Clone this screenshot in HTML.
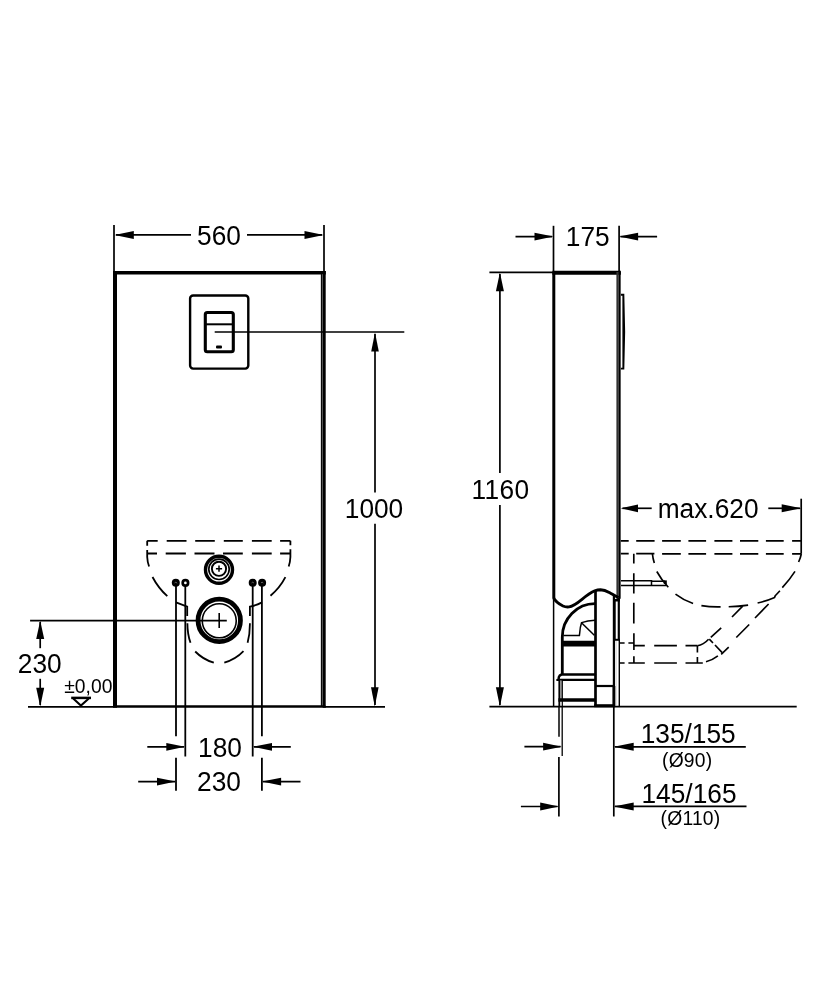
<!DOCTYPE html>
<html>
<head>
<meta charset="utf-8">
<title>Dimension drawing</title>
<style>
html,body{margin:0;padding:0;background:#fff;}
body{width:834px;height:1000px;overflow:hidden;}
svg{display:block;will-change:transform;}
text{font-family:"Liberation Sans",sans-serif;fill:#000;}
.t{font-size:26.3px;}
.s{font-size:19.3px;letter-spacing:0.2px;}
.l{stroke:#000;stroke-width:1.7;fill:none;}
.a{fill:#000;stroke:none;}
</style>
</head>
<body>
<svg width="834" height="1000" viewBox="0 0 834 1000">
<rect width="834" height="1000" fill="#fff"/>

<!-- ================= LEFT FIGURE ================= -->
<g id="left">
<!-- 560 dimension -->
<g class="l">
<line x1="114" y1="225" x2="114" y2="272"/>
<line x1="324" y1="225" x2="324" y2="272"/>
<line x1="116" y1="234.9" x2="191" y2="234.9"/>
<line x1="247" y1="234.9" x2="322" y2="234.9"/>
</g>
<polygon class="a" points="114.5,234.9 133.8,230.9 133.8,238.9"/>
<polygon class="a" points="323.8,234.9 304.5,230.9 304.5,238.9"/>
<text class="t" transform="translate(219,245.2) scale(1,1.035)" text-anchor="middle">560</text>

<!-- main box -->
<g stroke="#000" fill="none">
<line x1="115" y1="271" x2="115" y2="707.8" stroke-width="4"/>
<line x1="113" y1="272.8" x2="325.8" y2="272.8" stroke-width="3.6"/>
<line x1="321.6" y1="274" x2="321.6" y2="706" stroke-width="1.5"/>
<line x1="322.4" y1="274" x2="322.4" y2="706" stroke-width="0.8" stroke="#666"/>
<line x1="324.2" y1="271" x2="324.2" y2="707.8" stroke-width="3"/>
<line x1="113" y1="706.5" x2="325.4" y2="706.5" stroke-width="2.6"/>
</g>

<!-- flush plate -->
<g stroke="#000" fill="none">
<rect x="190.1" y="295.5" width="58.2" height="73.1" rx="3" stroke-width="2.4"/>
<rect x="205.3" y="312.5" width="28" height="39.2" rx="2" stroke-width="3.1"/>
<line x1="205.3" y1="324.3" x2="233.3" y2="324.3" stroke-width="2"/>
</g>
<rect x="216" y="345.6" width="6" height="2.9" rx="1" fill="#000"/>

<!-- 1000 dimension -->
<g class="l">
<line x1="214.7" y1="332" x2="404.3" y2="332"/>
<line x1="375" y1="334" x2="375" y2="492.5"/>
<line x1="375" y1="523.7" x2="375" y2="705"/>
<line x1="325" y1="706.8" x2="385" y2="706.8"/>
</g>
<polygon class="a" points="375,332.5 371.2,351.4 378.8,351.4"/>
<polygon class="a" points="374.8,706.5 371,687.3 378.6,687.3"/>
<text class="t" transform="translate(374,518) scale(1,1.035)" text-anchor="middle">1000</text>

<!-- 230 left dimension -->
<g class="l">
<line x1="30.1" y1="620.6" x2="226.8" y2="620.6"/>
<line x1="28" y1="706.9" x2="113" y2="706.9"/>
<line x1="40.2" y1="622" x2="40.2" y2="648.2"/>
<line x1="40.2" y1="678.8" x2="40.2" y2="705"/>
</g>
<polygon class="a" points="40.2,620.8 36.2,639.1 44.2,639.1"/>
<polygon class="a" points="40.2,706.5 36.2,687.8 44.2,687.8"/>
<text class="t" transform="translate(39.7,673.4) scale(1,1.035)" text-anchor="middle">230</text>
<text class="s" transform="translate(88.3,692.8) scale(1,1.035)" text-anchor="middle" style="letter-spacing:0px">±0,00</text>
<line x1="71.2" y1="697.9" x2="91" y2="697.9" stroke="#000" stroke-width="2.5"/>
<polyline points="73.2,698.4 80.9,705.6 88.8,698.4" fill="none" stroke="#000" stroke-width="2" stroke-linejoin="miter"/>

<!-- bowl dashed outline -->
<g class="l" style="stroke-width:1.8">
<path d="M147.2,540.8H157.7 M166.7,540.8H186.5 M195.2,540.8H214.8 M223.8,540.8H242.8 M251.9,540.8H271.7 M280.1,540.8H290.4"/>
<path d="M147.2,553.5H157 M165.7,553.5H185.9 M194.5,553.5H214.5 M223,553.5H242.8 M251.9,553.5H271.7 M280.1,553.5H290.4"/>
<path d="M147.2,540.8V545.8 M147.2,550 V557 Q147.4,562 149.1,566.5"/>
<path d="M290.4,540.8V545.3 M290.4,549.2 V557 Q290.2,562 288.7,566.5"/>
<path d="M152.5,577 Q158.3,588 167.3,596.2"/>
<path d="M285.4,577.2 Q279.8,588 270.5,595.7"/>
<path d="M176,602.4 L187.2,606.7 V616 M187.4,623.2 Q187.4,634 190.5,642.8"/>
<path d="M262,602.4 Q256,605.5 249.9,606.7 V616 M249.9,623.2 Q250,634 247.6,642.8"/>
<path d="M195.2,651.5 Q203,659.5 213.8,662.7"/>
<path d="M243.5,651.2 Q235.5,659.5 224.3,662.7"/>
</g>

<!-- pipes -->
<g stroke="#000" stroke-width="1.8" fill="none">
<line x1="176" y1="583" x2="176" y2="736.3"/>
<line x1="176" y1="757.8" x2="176" y2="790.7"/>
<line x1="185.3" y1="583" x2="185.3" y2="756.5"/>
<line x1="252.7" y1="583" x2="252.7" y2="756.5"/>
<line x1="261.9" y1="583" x2="261.9" y2="736.3"/>
<line x1="261.9" y1="757.8" x2="261.9" y2="790.7"/>
</g>
<g fill="#000" stroke="none">
<circle cx="175.8" cy="582.8" r="4"/>
<circle cx="252.7" cy="582.8" r="4"/>
<circle cx="262.1" cy="582.8" r="4"/>
</g>
<circle cx="185.4" cy="582.9" r="2.7" fill="#fff" stroke="#000" stroke-width="2.7"/>
<g stroke="#888" stroke-width="0.7" fill="none">
<path d="M174.6,582.9 Q175.8,581.4 177.2,583.2"/>
<path d="M251.6,582.9 Q252.7,581.4 253.9,583"/>
<path d="M261,582.9 Q262.1,581.4 263.3,583"/>
</g>

<!-- inlet circle -->
<g stroke="#000" fill="none">
<circle cx="219" cy="569.8" r="13.5" stroke-width="3.4"/>
<circle cx="219" cy="569.3" r="10.2" stroke-width="1.7"/>
<circle cx="219" cy="568.8" r="7.1" stroke-width="1.9"/>
<path d="M215.9,568.7H222.1 M219,565.6V571.8" stroke-width="1.5"/>
</g>
<!-- outlet circle -->
<g stroke="#000" fill="none">
<circle cx="219.25" cy="620.4" r="21.2" stroke-width="4.8"/>
<circle cx="219.25" cy="620.8" r="17" stroke-width="1.6"/>
<line x1="219.2" y1="612.9" x2="219.2" y2="628" stroke-width="1.6"/>
</g>

<!-- 180 / 230 bottom dims -->
<g class="l">
<line x1="147.3" y1="746.8" x2="184" y2="746.8"/>
<line x1="254" y1="746.8" x2="290.8" y2="746.8"/>
<line x1="138.2" y1="781.6" x2="175" y2="781.6"/>
<line x1="263" y1="781.6" x2="300.5" y2="781.6"/>
</g>
<polygon class="a" points="185,746.8 166.3,742.9 166.3,750.7"/>
<polygon class="a" points="252.8,746.8 272,742.9 272,750.7"/>
<polygon class="a" points="175.8,781.6 157,777.7 157,785.5"/>
<polygon class="a" points="261.9,781.6 281.1,777.7 281.1,785.5"/>
<text class="t" transform="translate(220,756.5) scale(1,1.035)" text-anchor="middle">180</text>
<text class="t" transform="translate(219,790.7) scale(1,1.035)" text-anchor="middle">230</text>
</g>

<!-- ================= RIGHT FIGURE ================= -->
<g id="right">
<!-- 175 dimension -->
<g class="l">
<line x1="553.5" y1="225.8" x2="553.5" y2="272"/>
<line x1="619.1" y1="225.8" x2="619.1" y2="272"/>
<line x1="515.5" y1="236.6" x2="552" y2="236.6"/>
<line x1="620.5" y1="236.6" x2="657.1" y2="236.6"/>
</g>
<polygon class="a" points="553.5,236.6 534.5,232.7 534.5,240.5"/>
<polygon class="a" points="619.1,236.6 638.1,232.7 638.1,240.5"/>
<text class="t" transform="translate(587.8,246.3) scale(1,1.035)" text-anchor="middle">175</text>

<!-- 1160 dimension -->
<g class="l">
<line x1="489.4" y1="272.4" x2="553.5" y2="272.4"/>
<line x1="499.9" y1="274" x2="499.9" y2="473"/>
<line x1="499.9" y1="505.1" x2="499.9" y2="705"/>
<line x1="489.4" y1="706.7" x2="796.7" y2="706.7"/>
</g>
<polygon class="a" points="499.9,272.5 495.9,291.3 503.9,291.3"/>
<polygon class="a" points="499.9,706.5 495.9,687.3 503.9,687.3"/>
<text class="t" transform="translate(500.4,498.9) scale(1,1.035)" text-anchor="middle" style="letter-spacing:0.35px">1160</text>

<!-- box -->
<g stroke="#000" fill="none">
<line x1="552.4" y1="272.7" x2="620.9" y2="272.7" stroke-width="4"/>
<line x1="553.8" y1="272" x2="553.8" y2="598.4" stroke-width="3"/>
<line x1="617.6" y1="272" x2="617.6" y2="598.8" stroke-width="2.4" stroke="#333"/>
<line x1="619.7" y1="272" x2="619.7" y2="598.8" stroke-width="1.9"/>
<line x1="553.6" y1="598" x2="553.6" y2="706" stroke-width="1.5"/>
</g>
<!-- flush plate side -->
<path d="M620.9,293.8 H624.3 Q626,331.7 624.3,369.6 H620.9 V367.8 H622.4 V295.8 H620.9 Z" fill="#000" stroke="none"/>

<!-- wave -->
<path d="M553.6,598 C555,600.5 558.5,603.8 563,606 C565,606.9 567,607.1 569,606.9 C573,606.5 577,603.5 582,599.4 C586,596 590,593 594.8,590.8 C597,590 599,589.8 600.5,589.8 C604,589.9 607,591.3 609.8,592.8 C613,594.6 615.5,596.3 618.6,597.6" stroke="#000" stroke-width="2.9" fill="none"/>

<!-- housing -->
<g stroke="#000" fill="none">
<line x1="595.5" y1="591" x2="595.5" y2="707" stroke-width="2.7"/>
<line x1="613.9" y1="595.5" x2="613.9" y2="706" stroke-width="2.2"/>
<line x1="615.3" y1="599" x2="615.3" y2="639" stroke-width="0.9"/>
<line x1="618.8" y1="598" x2="618.8" y2="640" stroke-width="2.2"/>
<line x1="614" y1="600.2" x2="620" y2="600.2" stroke-width="2.6"/>
<line x1="614" y1="639.8" x2="620" y2="639.8" stroke-width="2"/>
<line x1="619.3" y1="640" x2="619.3" y2="706" stroke-width="1.4"/>
<line x1="616" y1="641" x2="616" y2="706" stroke-width="0.8" stroke="#bbb"/>
<line x1="595.4" y1="686" x2="614" y2="686" stroke-width="2.2"/>
<line x1="594.2" y1="705.7" x2="615" y2="705.7" stroke-width="3"/>
<line x1="613.9" y1="686" x2="613.9" y2="706" stroke-width="2.8"/>
</g>

<!-- elbow -->
<g stroke="#000" fill="none">
<path d="M595,603.6 A32.8,33.4 0 0 0 562.3,637 V674" stroke-width="2.8"/>
<path d="M595,620.2 Q587.5,620.6 581.6,622.6 Q580,627.5 579.7,633 L579.4,635.6 H563.4" stroke-width="1.5"/>
<line x1="582" y1="623.2" x2="594.3" y2="635.2" stroke-width="1.5"/>
<line x1="561" y1="643.6" x2="595.4" y2="643.6" stroke-width="5.8"/>
<path d="M595,674.5H561.6 Q559.4,675.2 558.8,677.2 L558.6,679.9 M557.4,679.9 H595" stroke-width="2.4" stroke-linejoin="round" stroke-linecap="round"/>
<line x1="559.3" y1="680" x2="559.3" y2="706" stroke-width="1.8"/>
<line x1="561" y1="680" x2="561" y2="700" stroke-width="1.4" stroke="#777"/>
<line x1="562.3" y1="680" x2="562.3" y2="706" stroke-width="1.2"/>
<line x1="558.4" y1="700" x2="595.4" y2="700" stroke-width="3.3"/>
</g>

<!-- bolt -->
<g stroke="#000" fill="none" stroke-width="1.5">
<path d="M621,580.8H651.5V585.5 M651.5,581.3H665 M621,585.5H666.5"/>
</g>
<rect x="663.8" y="580.4" width="3" height="3.6" fill="#000"/>

<!-- max.620 -->
<g class="l">
<line x1="801.2" y1="498.7" x2="801.2" y2="553.8"/>
<line x1="622.5" y1="508.3" x2="651.7" y2="508.3"/>
<line x1="768.3" y1="508.3" x2="800" y2="508.3"/>
</g>
<polygon class="a" points="620.8,508.3 638,504.4 638,512.2"/>
<polygon class="a" points="801.2,508.3 781.7,504.3 781.7,512.3"/>
<text class="t" transform="translate(708.1,518.4) scale(1,1.035)" text-anchor="middle">max.620</text>

<!-- bowl dashed -->
<g class="l" style="stroke-width:1.65">
<path d="M620.8,540.9H628.7 M636.2,540.9H654.6 M662.1,540.9H680.8 M688.4,540.9H706.1 M714.4,540.9H732.4 M740,540.9H758.3 M765.9,540.9H783.7 M792.1,540.9H801.2"/>
<path d="M620.8,553.6H628.7 M636.2,553.6H654.4 M662.1,553.8H680.8 M688.4,553.8H706.1 M714.4,553.8H732.4 M740,553.8H758.3 M765.9,553.8H783.7 M792.1,553.8H801.2"/>
<!-- vertical dashed -->
<path d="M633.8,553.8V563.5 M633.8,573.3V593.4 M633.8,602.8V623.4 M633.9,633.2V650 M633.9,656.2V663"/>
<!-- inner bowl curve -->
<path d="M652.4,553.8 Q652.9,558.5 654.3,562.9"/>
<path d="M656.8,571.5 Q661.5,580 668.3,587.3"/>
<path d="M675.5,594.1 Q683.5,600.2 693.1,603.5"/>
<path d="M701.4,605.6 Q710.5,607.2 720.6,606.9"/>
<path d="M728.7,606.8 Q738.5,606.5 748.1,605.1"/>
<path d="M757.6,603 Q767,600.8 774.6,597.4 L775.2,595.8"/>
<path d="M775,596 L779.9,590.8"/>
<path d="M776.2,595.4 Q779,593 782.3,587.6" stroke="none"/>
<path d="M782.3,587.6 Q789.5,580 795,571.4"/>
<path d="M798.6,562 Q800.5,558 801.3,554"/>
<!-- trap diagonals -->
<path d="M742.7,606.2 L732,617 M721.2,627.8 L710.8,637.3 M708.6,639.2 Q703.5,644.8 697.4,645.7"/>
<path d="M768.6,604 L755,618 M749.2,624.5 L736.3,637.5 M728.7,647.2 L721.2,654.3 M717.9,655.8 Q712,660.3 706,661.7"/>
<path d="M709.3,639.2 L713,643 M715,645 L722.2,652.6"/>
<!-- outlet dashed -->
<path d="M619.9,643H624.6 M628.4,643H634 M634,645.6H644.8 M654.2,645.6H676.9 M685.5,645.6H697.4"/>
<path d="M619.9,663H624.6 M628.4,663H644.8 M654.2,663H676.9 M685.5,663H702.8"/>
<path d="M697.4,645.7V652.6 M697.4,656.9V663"/>
</g>

<!-- bottom dims -->
<g class="l">
<line x1="559" y1="706" x2="559" y2="736.8" stroke-width="1.5"/>
<line x1="558.9" y1="757" x2="558.9" y2="816.5"/>
<line x1="562.2" y1="706" x2="562.2" y2="756.1" stroke-width="1.3"/>
<line x1="613.8" y1="706" x2="613.8" y2="816.5"/>
<line x1="524.4" y1="746.7" x2="560.5" y2="746.7"/>
<line x1="615" y1="746.8" x2="745.8" y2="746.8"/>
<line x1="520.9" y1="806.5" x2="557.5" y2="806.5"/>
<line x1="615" y1="806.4" x2="746.5" y2="806.4"/>
</g>
<polygon class="a" points="561.8,746.7 543.1,742.8 543.1,750.6"/>
<polygon class="a" points="613.8,746.8 633.7,742.8 633.7,750.8"/>
<polygon class="a" points="558.9,806.5 540.2,802.6 540.2,810.4"/>
<polygon class="a" points="613.8,806.4 633.7,802.4 633.7,810.4"/>
<text class="t" transform="translate(688.2,742.6) scale(1,1.035)" text-anchor="middle">135/155</text>
<text class="s" transform="translate(687.2,766.7) scale(1,1.035)" text-anchor="middle">(Ø90)</text>
<text class="t" transform="translate(689,802.5) scale(1,1.035)" text-anchor="middle">145/165</text>
<text class="s" transform="translate(690.5,825.1) scale(1,1.035)" text-anchor="middle">(Ø110)</text>
</g>
</svg>
</body>
</html>
